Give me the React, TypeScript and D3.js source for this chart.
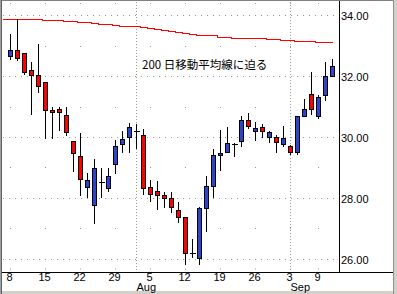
import React from "react";
import * as d3 from "d3";

const dates = [
  "2013-07-08","2013-07-09","2013-07-10","2013-07-11","2013-07-12",
  "2013-07-15","2013-07-16","2013-07-17","2013-07-18","2013-07-19",
  "2013-07-22","2013-07-23","2013-07-24","2013-07-25","2013-07-26",
  "2013-07-29","2013-07-30","2013-07-31","2013-08-01","2013-08-02",
  "2013-08-05","2013-08-06","2013-08-07","2013-08-08","2013-08-09",
  "2013-08-12","2013-08-13","2013-08-14","2013-08-15","2013-08-16",
  "2013-08-19","2013-08-20","2013-08-21","2013-08-22","2013-08-23",
  "2013-08-26","2013-08-27","2013-08-28","2013-08-29","2013-08-30",
  "2013-09-03","2013-09-04","2013-09-05","2013-09-06",
  "2013-09-09","2013-09-10","2013-09-11",
];

const open = [
  32.67, 32.86, 32.76, 32.19, 32.03,
  31.80, 30.88, 30.92, 30.71, 29.86,
  29.36, 28.34, 27.75, 28.52, 28.31,
  29.10, 29.76, 30.00, 30.18, 30.05,
  28.34, 28.21, 28.08, 27.98, 27.59,
  27.36, 26.17, 26.01, 27.65, 28.38,
  29.39, 29.49, 29.77, 29.86, 30.55,
  30.18, 30.32, 29.99, 29.99, 29.76,
  29.69, 29.49, 30.68, 31.40,
  30.68, 31.37, 31.99,
];
const high = [
  33.43, 33.90, 32.79, 32.50, 33.09,
  31.80, 31.01, 31.01, 31.01, 29.86,
  30.15, 28.85, 29.31, 29.02, 29.01,
  29.93, 30.23, 30.48, 30.45, 30.28,
  28.61, 28.57, 28.21, 28.21, 27.88,
  27.36, 26.67, 27.72, 28.74, 29.63,
  30.25, 30.35, 29.83, 30.71, 30.81,
  30.51, 30.45, 30.22, 30.09, 30.38,
  29.76, 30.71, 31.27, 32.16,
  31.40, 32.49, 32.59,
];
const low = [
  32.57, 32.53, 32.08, 30.76, 31.49,
  29.97, 29.97, 30.24, 30.07, 28.89,
  28.09, 28.01, 27.16, 28.01, 28.21,
  28.80, 29.49, 29.49, 29.64, 28.11,
  27.90, 27.64, 27.68, 27.54, 27.19,
  25.81, 26.04, 25.81, 26.89, 28.01,
  28.90, 29.49, 29.36, 29.69, 30.28,
  29.89, 29.99, 29.82, 29.49, 29.69,
  29.43, 29.43, 30.68, 30.74,
  30.61, 31.20, 31.99,
];
const close = [
  32.86, 32.59, 32.14, 32.03, 31.68,
  30.88, 30.81, 30.81, 30.15, 29.46,
  28.61, 28.58, 28.97, 28.52, 28.70,
  29.69, 29.92, 30.32, 30.18, 28.31,
  28.11, 28.08, 27.98, 27.68, 27.36,
  26.17, 26.17, 27.65, 28.38, 29.39,
  29.46, 29.79, 29.77, 30.55, 30.35,
  30.28, 30.18, 30.15, 29.82, 29.95,
  29.49, 30.68, 30.91, 30.91,
  31.30, 31.99, 32.32,
];
const ma200 = [
  33.87, 33.87, 33.87, 33.87, 33.87,
  33.84, 33.84, 33.84, 33.80, 33.80,
  33.77, 33.77, 33.74, 33.70, 33.70,
  33.67, 33.65, 33.65, 33.65, 33.62,
  33.58, 33.55, 33.52, 33.48, 33.45,
  33.42, 33.38, 33.36, 33.36, 33.34,
  33.30, 33.30, 33.25, 33.25, 33.25,
  33.25, 33.24, 33.22, 33.22, 33.18,
  33.18, 33.14, 33.14, 33.14,
  33.11, 33.11, 33.11,
];

const weekTicks = ["2013-07-08","2013-07-15","2013-07-22","2013-07-29","2013-08-05","2013-08-12","2013-08-19","2013-08-26","2013-09-03","2013-09-09"];
const weekLabels = ["8","15","22","29","5","12","19","26","3","9"];
const monthStarts = ["2013-08-01","2013-09-03"];
const monthLabels = ["Aug","Sep"];
const yMajor = [26, 28, 30, 32, 34];
const yMajorLabels = ["26.00","28.00","30.00","32.00","34.00"];
const yMinor = [27, 29, 31, 33];
const annotation = "200 日移動平均線に迫る";

const W = 397, H = 294;
const plotL = 2, plotR = 339.5, plotT = 1, plotB = 272.5;
const RED = "#ff0000", BLUE = "#2f44cc", GRID = "#999999";
const FONT = "'Liberation Sans', Arial, sans-serif";

export default function App() {
  const x = d3.scalePoint<string>().domain(dates).range([10.5, 332.5]);
  const y = d3.scaleLinear().domain([26, 34]).range([258.5, 15.3]);
  const py = (v: number) => Math.round(y(v)) + 0.5;

  const maLine = d3.line<number>()
    .x((_, i) => (i === 0 ? plotL + 1 : (x(dates[i - 1]) as number)))
    .y((d) => py(d))
    .curve(d3.curveStep);
  const maPts = [ma200[0], ...ma200];

  return (
    <svg width={W} height={H} style={{ position: "absolute", left: 0, top: 0, background: "#fff" }}>
      <rect x={0} y={0} width={W} height={H} fill="#d4d0c8" />
      <rect x={2} y={1} width={391} height={290} fill="#ffffff" />
      <rect x={0} y={0} width={393} height={1} fill="#808080" />
      <rect x={0} y={0} width={1} height={H} fill="#a0a0a0" />
      <rect x={1} y={0} width={1} height={H} fill="#606060" />
      <rect x={393} y={0} width={1} height={H} fill="#909090" />

      {yMajor.map((v) => (
        <line key={"h" + v} x1={plotL + 1} x2={plotR - 1} y1={py(v)} y2={py(v)}
          stroke={GRID} strokeDasharray="1 5" shapeRendering="crispEdges" />
      ))}
      {yMinor.map((v) =>
        weekTicks.map((d) => (
          <rect key={"m" + v + d} x={(x(d) as number) - 0.5} y={py(v) - 0.5} width={1} height={1} fill={GRID} />
        ))
      )}
      {weekTicks.map((d) => (
        <g key={"wt" + d}>
          <rect x={(x(d) as number) - 0.5} y={plotT + 2} width={1} height={1} fill={GRID} />
          <rect x={(x(d) as number) - 0.5} y={plotB - 4} width={1} height={1} fill={GRID} />
        </g>
      ))}
      {monthStarts.map((d) => (
        <line key={"ms" + d} x1={x(d)} x2={x(d)} y1={plotT + 1} y2={plotB}
          stroke={GRID} strokeDasharray="1 2" shapeRendering="crispEdges" />
      ))}

      <path d={maLine(maPts) || ""} fill="none" stroke={RED} strokeWidth={1} shapeRendering="crispEdges" />

      {dates.map((d, i) => {
        const cx = x(d) as number;
        const o = open[i], c = close[i];
        const yH = py(high[i]), yL = py(low[i]);
        if (Math.abs(o - c) < 0.005) {
          const yc = py(c);
          return (
            <g key={d} shapeRendering="crispEdges">
              <line x1={cx} x2={cx} y1={yH} y2={yL} stroke="#000" />
              <line x1={cx - 3} x2={cx + 3} y1={yc} y2={yc} stroke="#000" />
            </g>
          );
        }
        const top = py(Math.max(o, c)), bot = py(Math.min(o, c));
        return (
          <g key={d} shapeRendering="crispEdges">
            <line x1={cx} x2={cx} y1={yH} y2={yL} stroke="#000" />
            <rect x={cx - 2} y={top} width={4} height={Math.max(bot - top, 1)}
              fill={c > o ? BLUE : RED} stroke="#000" strokeWidth={1} />
          </g>
        );
      })}

      <line x1={plotR} x2={plotR} y1={plotT} y2={plotB} stroke="#000" shapeRendering="crispEdges" />
      <line x1={plotL} x2={393} y1={plotB} y2={plotB} stroke="#000" shapeRendering="crispEdges" />

      {yMajor.map((v, i) => (
        <text key={"yl" + v} x={341} y={py(v) + 4} fontFamily={FONT} fontSize={11} fill="#000">
          {yMajorLabels[i]}
        </text>
      ))}
      {weekTicks.map((d, i) => (
        <text key={"xl" + d} x={(x(d) as number) - 1} y={281} textAnchor="middle" fontFamily={FONT} fontSize={11} fill="#000">
          {weekLabels[i]}
        </text>
      ))}
      {monthStarts.map((d, i) => (
        <text key={"ml" + d} x={(x(d) as number)} y={291} fontFamily={FONT} fontSize={11} fill="#000">
          {monthLabels[i]}
        </text>
      ))}

      <text x={142} y={69} fontFamily="'Noto Sans CJK JP', sans-serif" fontSize={11.5} fill="#000">
        {annotation}
      </text>
    </svg>
  );
}
